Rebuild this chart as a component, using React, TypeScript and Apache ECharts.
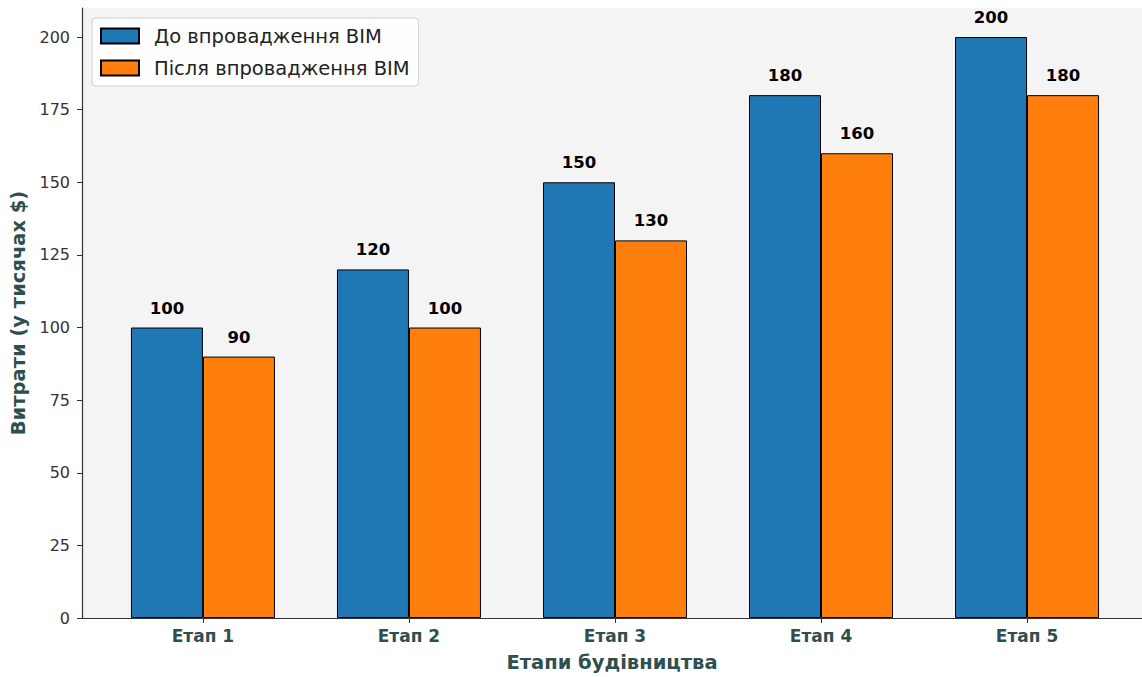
import React, { useEffect, useRef } from "react";
import * as echarts from "echarts";

const categories = ["Етап 1", "Етап 2", "Етап 3", "Етап 4", "Етап 5"];
const beforeBIM = [100, 120, 150, 180, 200];
const afterBIM = [90, 100, 130, 160, 180];
const seriesNames = ["До впровадження BIM", "Після впровадження BIM"];
const yTicks = [0, 25, 50, 75, 100, 125, 150, 175, 200];
const xPositions = categories.map((_, i) => i);

const FONT = "DejaVu Sans";

export default function App() {
  const ref = useRef<HTMLDivElement>(null);
  useEffect(() => {
    if (!ref.current) return;
    const chart = echarts.init(ref.current, undefined, { renderer: "svg" });
    const labelStyle = {
      show: true,
      position: "top",
      distance: 11,
      fontFamily: FONT,
      fontWeight: "bold",
      fontSize: 16.5,
      color: "#000",
    };
    chart.setOption({
      animation: false,
      textStyle: { fontFamily: FONT },
      grid: {
        left: 82,
        top: 8,
        width: 1060,
        height: 612,
        show: true,
        backgroundColor: "#f4f4f4",
        borderWidth: 0,
      },
      legend: {
        orient: "vertical",
        left: 92,
        top: 18,
        icon: "rect",
        itemWidth: 38,
        itemHeight: 15,
        itemGap: 12,
        padding: [8, 9, 8, 8],
        backgroundColor: "rgba(255,255,255,0.85)",
        borderColor: "#d0d0d0",
        borderWidth: 1,
        borderRadius: 4,
        textStyle: { fontFamily: FONT, fontSize: 19.5, color: "#222", padding: [0, 0, 0, 10] },
        data: seriesNames,
      },
      xAxis: {
        type: "value",
        min: -0.587,
        max: 4.558,
        name: "Етапи будівництва",
        nameLocation: "middle",
        nameGap: 34,
        nameTextStyle: { fontFamily: FONT, fontWeight: "bold", fontSize: 19.5, color: "#2F4F4F" },
        splitLine: { show: false },
        axisLine: { show: true, onZero: false, lineStyle: { color: "#333", width: 1.2 } },
        axisTick: { show: true, length: 5, lineStyle: { color: "#333" }, customValues: xPositions },
        axisLabel: {
          customValues: xPositions,
          formatter: (v: number) => categories[Math.round(v)] ?? "",
          margin: 9,
          fontFamily: FONT,
          fontWeight: "bold",
          fontSize: 17,
          color: "#2F4F4F",
        },
      },
      yAxis: {
        type: "value",
        min: 0,
        max: 210,
        name: "Витрати (у тисячах $)",
        nameLocation: "middle",
        nameGap: 51,
        nameTextStyle: { fontFamily: FONT, fontWeight: "bold", fontSize: 19.5, color: "#2F4F4F" },
        splitLine: { show: false },
        axisLine: { show: true, onZero: false, lineStyle: { color: "#333", width: 1.2 } },
        axisTick: { show: true, length: 5, lineStyle: { color: "#333" }, customValues: yTicks },
        axisLabel: {
          customValues: yTicks,
          margin: 12,
          fontFamily: FONT,
          fontSize: 16,
          color: "#333",
        },
      },
      series: [
        {
          name: seriesNames[0],
          type: "bar",
          barWidth: 72,
          barGap: "0%",
          data: beforeBIM.map((v, i) => [xPositions[i], v]),
          itemStyle: { color: "#1f77b4", borderColor: "#000", borderWidth: 1 },
          label: labelStyle,
        },
        {
          name: seriesNames[1],
          type: "bar",
          barWidth: 72,
          barGap: "0%",
          data: afterBIM.map((v, i) => [xPositions[i], v]),
          itemStyle: { color: "#ff7f0e", borderColor: "#000", borderWidth: 1 },
          label: labelStyle,
        },
      ],
    });
    return () => chart.dispose();
  }, []);
  return (
    <div
      ref={ref}
      style={{ position: "absolute", left: 0, top: 0, width: 1142, height: 677 }}
    />
  );
}
